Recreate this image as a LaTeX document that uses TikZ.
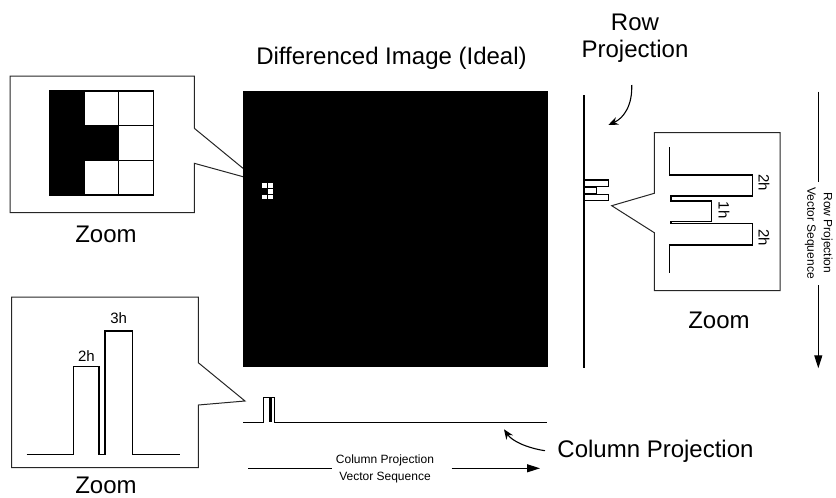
\documentclass[tikz,border=0pt]{standalone}
\usepackage{fontspec}
\setmainfont{Liberation Sans}
\usetikzlibrary{arrows.meta}
\begin{document}
\begin{tikzpicture}[x=1pt,y=-1pt,line join=miter,
  big/.style={font=\fontsize{24}{28}\selectfont,inner sep=0pt,anchor=base},
  small/.style={font=\fontsize{12}{16.6}\selectfont,inner sep=0pt,align=center},
  lbl/.style={font=\fontsize{15}{18}\selectfont,inner sep=0pt},
  zbox/.style={line width=1pt,black!85},
  sig/.style={line width=1.3pt},
  seqarrow/.style={line width=1.1pt,-{Triangle[length=13pt,width=8pt]}},
  curvearrow/.style={line width=1.1pt,-{Stealth[length=10pt,width=8pt]}}]
\useasboundingbox (0,0) rectangle (836,498);

% ---------- top-left zoom box ----------
\draw[zbox] (194.3,128.3) -- (194.3,76) -- (10,76) -- (10,212.7) -- (194.3,212.7) -- (194.3,163.3) -- (243,176.7);
\draw[zbox] (194.3,128.3) -- (243,168.3);
\fill[black] (50,91) rectangle (84.4,195);
\fill[black] (84.4,125.7) rectangle (118.8,160.4);
\draw[line width=1.3pt] (50,91) rectangle (153.3,195);
\draw[line width=1.3pt] (84.4,91) -- (84.4,195) (118.8,91) -- (118.8,195);
\draw[line width=1.3pt] (84.4,125.7) -- (153.3,125.7) (84.4,160.4) -- (153.3,160.4);
\node[big] (zoomA) at (106,242.5) {Zoom};

% ---------- differenced image ----------
\node[big] (title) at (391.5,64) {Differenced Image (Ideal)};
\fill[black] (243,91) rectangle (548,367);
\foreach \cx/\cy in {261.7/182.3, 267.5/182.3, 267.5/188.2, 261.7/194.1, 267.5/194.1}
  \fill[white] (\cx+0.6,\cy+0.6) rectangle (\cx+5.2,\cy+5.3);

% ---------- column projection (under image) ----------
\draw[sig] (243.3,422.7) -- (263.3,422.7) -- (263.3,397.3) -- (269.3,397.3) -- (269.3,421.5) -- (271,421.5) -- (271,397.3) -- (274.3,397.3) -- (274.3,422.7) -- (546.7,422.7);

% ---------- bottom-left zoom box ----------
\draw[zbox] (198.3,405) -- (198.3,467.7) -- (11.7,467.7) -- (11.7,297) -- (198.3,297) -- (198.3,362.7) -- (245,401) -- cycle;
\draw[sig] (26.7,454.3) -- (73.3,454.3) -- (73.3,366.7) -- (99,366.7) -- (99,454.3) -- (105,454.3) -- (105,331) -- (132.3,331) -- (132.3,454.3) -- (180,454.3);
\node[lbl,anchor=base] (l2h) at (86.5,361.7) {2h};
\node[lbl,anchor=base] (l3h) at (118.7,323) {3h};
\node[big] (zoomB) at (106,493) {Zoom};

% ---------- column projection label and arrows ----------
\node[big] (colproj) at (655.5,457) {Column Projection};
\coordinate (cpstart) at (545,450.7);
\coordinate (cptip) at (504,429.3);
\draw[curvearrow] (cpstart) .. controls (527,448) and (512,441) .. (cptip);
\node[small] (colseq) at (385,469) {Column Projection\\Vector Sequence};
\coordinate (cs1) at (248.3,468.3);
\coordinate (cs2) at (331.7,468.3);
\coordinate (cs3) at (451.7,468.3);
\coordinate (cs4) at (540,468.3);
\draw[line width=1.1pt] (cs1) -- (cs2);
\draw[seqarrow] (cs3) -- (cs4);

% ---------- row projection ----------
\node[big] (row1) at (635,30) {Row};
\node[big] (row2) at (635,57.5) {Projection};
\coordinate (rpstart) at (631.7,85);
\coordinate (rptip) at (608.3,125);
\draw[curvearrow] (rpstart) .. controls (632.5,105) and (624,118) .. (rptip);
\draw[sig] (584,95) -- (584,368);
\draw[sig] (584,180) -- (608.5,180) -- (608.5,186.2) -- (585,186.2) -- (585,187.7) -- (596.7,187.7) -- (596.7,193.8) -- (585,193.8) -- (585,194.5) -- (608.5,194.5) -- (608.5,200.7) -- (584,200.7);

% ---------- right zoom box ----------
\draw[zbox] (654.3,193.3) -- (654.3,132.7) -- (780,132.7) -- (780,290.7) -- (654.3,290.7) -- (654.3,232.7) -- (611.7,205.7) -- cycle;
\draw[sig] (669.3,147.3) -- (669.3,175) -- (752.3,175) -- (752.3,196) -- (671,196) -- (671,201) -- (711.7,201) -- (711.7,221.7) -- (671,221.7) -- (671,223.3) -- (752.3,223.3) -- (752.3,245) -- (669.3,245) -- (669.3,273.3);
\node[lbl,rotate=-90] (r2ha) at (764,182.5) {2h};
\node[lbl,rotate=-90] (r1h) at (724,210) {1h};
\node[lbl,rotate=-90] (r2hb) at (764,237.5) {2h};
\node[big] (zoomC) at (719,328) {Zoom};

% ---------- row projection vector sequence ----------
\node[small,rotate=-90] (rowseq) at (818.7,233) {Row Projection\\Vector Sequence};
\coordinate (rs1) at (818.3,91.7);
\coordinate (rs2) at (818.3,181.7);
\coordinate (rs3) at (818.3,285);
\coordinate (rs4) at (818.3,368.3);
\draw[line width=1.1pt] (rs1) -- (rs2);
\draw[seqarrow] (rs3) -- (rs4);
\end{tikzpicture}
\end{document}
